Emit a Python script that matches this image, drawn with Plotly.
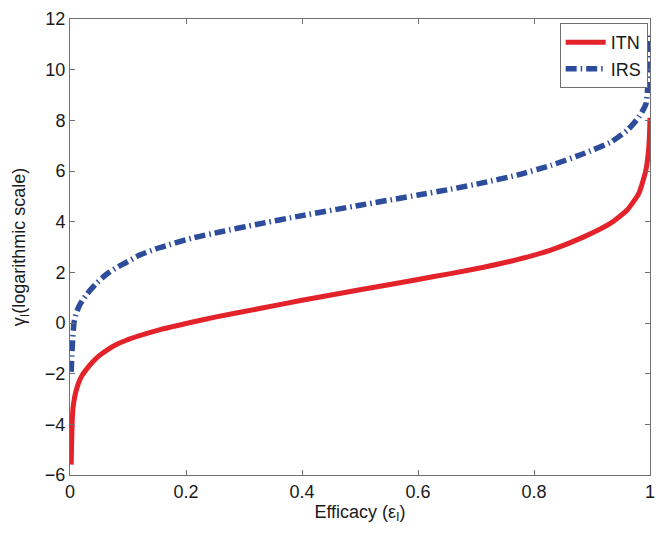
import plotly.graph_objects as go

# ITN curve values
itn_x = [0.002, 0.004, 0.006, 0.01, 0.015, 0.021, 0.03, 0.039, 0.05, 0.067, 0.08,
         0.096, 0.12, 0.154, 0.2, 0.25, 0.327, 0.4, 0.5, 0.6, 0.656, 0.713, 0.771,
         0.829, 0.886, 0.933, 0.961, 0.981, 0.993, 0.997, 0.999, 1.0]
itn_y = [-5.59, -3.76, -3.2, -2.72, -2.35, -2.06, -1.78, -1.54, -1.3, -1.02, -0.85,
         -0.69, -0.50, -0.27, -0.02, 0.23, 0.57, 0.9, 1.31, 1.72, 1.95, 2.2, 2.5,
         2.88, 3.4, 3.95, 4.47, 5.13, 6.04, 6.7, 7.35, 8.1]

# IRS curve values
irs_x = [0.002, 0.004, 0.007, 0.011, 0.016, 0.021, 0.027, 0.035, 0.044, 0.055, 0.067,
         0.08, 0.096, 0.12, 0.154, 0.212, 0.26, 0.321, 0.4, 0.5, 0.6, 0.656, 0.713,
         0.771, 0.829, 0.886, 0.933, 0.961, 0.981, 0.993, 0.997, 0.999]
irs_y = [-1.93, -0.89, 0.03, 0.4, 0.68, 0.88, 1.07, 1.3, 1.53, 1.77, 1.99,
         2.18, 2.38, 2.68, 2.97, 3.36, 3.6, 3.89, 4.24, 4.65, 5.05, 5.28, 5.54,
         5.84, 6.22, 6.69, 7.15, 7.61, 8.13, 8.65, 9.6, 11.5]

x_ticks = [0, 0.2, 0.4, 0.6, 0.8, 1]
x_tick_text = ["0", "0.2", "0.4", "0.6", "0.8", "1"]
y_ticks = [-6, -4, -2, 0, 2, 4, 6, 8, 10, 12]

FONT = "Liberation Sans, Arial, Helvetica, sans-serif"

fig = go.Figure()
fig.add_trace(go.Scatter(x=itn_x, y=itn_y, mode="lines", name="ITN",
                         line=dict(color="#E3222A", width=5, shape="spline", smoothing=0.5)))
fig.add_trace(go.Scatter(x=irs_x, y=irs_y, mode="lines", name="IRS",
                         line=dict(color="#2D4D9C", width=5.5, dash="11px,4px,1.5px,4px",
                                   shape="spline", smoothing=0.5)))

axis_common = dict(showgrid=False, zeroline=False, showline=True, mirror="ticks",
                   linecolor="#707070", linewidth=1, ticks="inside", ticklen=5,
                   tickcolor="#707070", automargin=False,
                   tickfont=dict(family=FONT, size=18, color="#1a1a1a"))

fig.update_xaxes(range=[0, 1], tickvals=x_ticks, ticktext=x_tick_text,
                 title=dict(text="Efficacy (ε<sub>I</sub>)",
                            font=dict(family=FONT, size=18, color="#1a1a1a"), standoff=4),
                 **axis_common)
fig.update_yaxes(range=[-6, 12], tickvals=y_ticks,
                 title=dict(text="γ<sub>I</sub>(logarithmic scale)",
                            font=dict(family=FONT, size=18, color="#1a1a1a"), standoff=14),
                 **axis_common)

fig.update_layout(
    width=661, height=534,
    margin=dict(l=70, r=11, t=19, b=59),
    paper_bgcolor="white", plot_bgcolor="white",
    showlegend=True,
    legend=dict(x=0.996, y=0.991, xanchor="right", yanchor="top",
                bordercolor="#707070", borderwidth=1, bgcolor="white",
                font=dict(family=FONT, size=18, color="#1a1a1a"),
                tracegroupgap=0, itemwidth=40),
)

fig.write_html("out.html", config={"displayModeBar": False},
               post_script="document.body.style.margin='0';document.body.style.padding='0';")
